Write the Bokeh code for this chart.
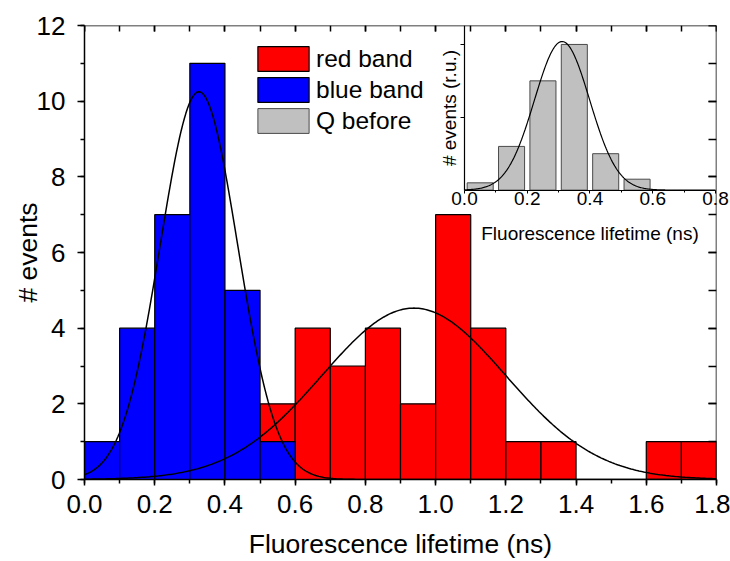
import numpy as np
from bokeh.plotting import figure
from bokeh.models import (Range1d, LinearAxis, SingleIntervalTicker, FixedTicker, Label,
                          CustomJSTickFormatter, PrintfTickFormatter, Legend, LegendItem)
from bokeh.embed import file_html
from bokeh.resources import INLINE

# ---------------- data ----------------
bin_width = 0.1
blue_centers = [0.05, 0.15, 0.25, 0.35, 0.45, 0.55]
blue_counts = [1, 4, 7, 11, 5, 1]
red_centers = [0.55, 0.65, 0.75, 0.85, 0.95, 1.05, 1.15, 1.25, 1.35, 1.45, 1.55, 1.65, 1.75]
red_counts = [2, 4, 3, 4, 2, 7, 4, 1, 1, 0, 0, 1, 1]
q_centers = [0.05, 0.15, 0.25, 0.35, 0.45, 0.55]
q_counts = [0.1, 0.6, 1.5, 2.0, 0.5, 0.15]   # relative units
inset_major_ticks = [0.0, 0.2, 0.4, 0.6, 0.8]
inset_minor_ticks = [0.1, 0.3, 0.5, 0.7]

# Gaussian fit parameters (amplitude, centre, sigma)
blue_fit = (10.25, 0.326, 0.110)
red_fit = (4.53, 0.938, 0.262)
q_fit = (2.04, 0.311, 0.088)

FONT = "Liberation Sans"

def gauss(x, amp, mu, sig):
    return amp * np.exp(-(x - mu) ** 2 / (2 * sig ** 2))

p = figure(width=730, height=561, x_range=Range1d(0, 1.8), y_range=Range1d(0, 12),
           output_backend="svg", toolbar_location=None,
           min_border_left=84, min_border_right=14, min_border_top=25, min_border_bottom=81)
p.outline_line_color = None
p.xgrid.visible = False
p.ygrid.visible = False
p.background_fill_color = "white"
p.border_fill_color = "white"

p.extra_x_ranges = {"inset_x": Range1d(-1.2112, 0.8032)}
p.extra_y_ranges = {"inset_y": Range1d(-3.973, 2.260)}

def style_axis(ax, size):
    ax.axis_line_color = "black"
    ax.axis_line_width = 1.5
    ax.major_tick_line_color = "black"
    ax.minor_tick_line_color = "black"
    ax.major_tick_line_width = 1.5
    ax.minor_tick_line_width = 1.5
    ax.major_label_text_font = FONT
    ax.major_label_text_font_size = size
    ax.major_label_text_color = "black"
    ax.axis_label_text_font = FONT
    ax.axis_label_text_font_style = "normal"
    ax.axis_label_text_color = "black"

# main bottom axis
xa = p.xaxis[0]
xa.ticker = SingleIntervalTicker(interval=0.2, num_minor_ticks=2)
xa.formatter = PrintfTickFormatter(format="%.1f")
style_axis(xa, "26px")
xa.major_tick_out = 6
xa.major_tick_in = 0
xa.minor_tick_out = 4
xa.minor_tick_in = 0
xa.major_label_standoff = 9
xa.axis_label = "Fluorescence lifetime (ns)"
xa.axis_label_text_font_size = "26.5px"
xa.axis_label_standoff = 13

# main left axis
ya = p.yaxis[0]
ya.ticker = SingleIntervalTicker(interval=2, num_minor_ticks=2)
ya.formatter = PrintfTickFormatter(format="%d")
style_axis(ya, "26px")
ya.major_tick_out = 7
ya.major_tick_in = 0
ya.minor_tick_out = 4
ya.minor_tick_in = 0
ya.major_label_standoff = 12
ya.axis_label = "# events"
ya.axis_label_text_font_size = "26.5px"
ya.axis_label_standoff = -9

blank = CustomJSTickFormatter(code="return ''")

# top mirror axis
top = LinearAxis(ticker=SingleIntervalTicker(interval=0.2, num_minor_ticks=2),
                 formatter=blank, fixed_location=12)
style_axis(top, "10px")
top.major_tick_in = 6
top.major_tick_out = 0
top.minor_tick_in = 6
top.minor_tick_out = 0
p.add_layout(top, "above")

# right mirror axis
right = LinearAxis(ticker=SingleIntervalTicker(interval=2, num_minor_ticks=2),
                   formatter=blank, fixed_location=1.8)
style_axis(right, "10px")
right.major_tick_in = 8
right.major_tick_out = 0
right.minor_tick_in = 8
right.minor_tick_out = 0
p.add_layout(right, "right")

# ---------------- main bars ----------------
rc = [c for c, v in zip(red_centers, red_counts) if v > 0]
rv = [v for v in red_counts if v > 0]
r_red = p.vbar(x=rc, top=rv, bottom=0, width=bin_width, fill_color="#FF0000",
               line_color="black", line_width=1.2)
r_blue = p.vbar(x=blue_centers, top=blue_counts, bottom=0, width=bin_width,
                fill_color="#0000FF", line_color="black", line_width=1.2)

xs = np.linspace(0, 1.8, 400)
p.line(xs, gauss(xs, *red_fit), line_color="black", line_width=1.5)
p.line(xs, gauss(xs, *blue_fit), line_color="black", line_width=1.5)

# ---------------- inset ----------------
r_q = p.vbar(x=q_centers, top=q_counts, bottom=0, width=0.083, fill_color="#C0C0C0",
             line_color="#4a4a4a", line_width=1,
             x_range_name="inset_x", y_range_name="inset_y")
xi = np.linspace(0, 0.8, 300)
p.line(xi, gauss(xi, *q_fit), line_color="black", line_width=1.2,
       x_range_name="inset_x", y_range_name="inset_y")

ib = LinearAxis(x_range_name="inset_x", y_range_name="inset_y", fixed_location=0,
                bounds=(0, 0.8),
                ticker=FixedTicker(ticks=inset_major_ticks, minor_ticks=inset_minor_ticks),
                formatter=PrintfTickFormatter(format="%.1f"))
ib.major_label_overrides = {inset_major_ticks[-1]: ""}
style_axis(ib, "19px")
ib.axis_line_width = 1.2
ib.major_tick_out = 3
ib.major_tick_in = 0
ib.minor_tick_out = 2
ib.minor_tick_in = 0
ib.major_tick_line_width = 1
ib.minor_tick_line_width = 1
ib.major_label_standoff = -1
ib.axis_label = "Fluorescence lifetime (ns)"
ib.axis_label_text_font_size = "19px"
ib.axis_label_standoff = 14
p.add_layout(ib, "below")

# last inset tick label drawn as a side-panel annotation so it is not clipped at the frame edge
p.add_layout(Label(x=inset_major_ticks[-1], y=0, x_range_name="inset_x", y_range_name="inset_y",
                   text="%.1f" % inset_major_ticks[-1], text_align="center", text_baseline="top",
                   y_offset=-2, text_font=FONT, text_font_size="19px", text_color="black"),
             "above")

il = LinearAxis(x_range_name="inset_x", y_range_name="inset_y", fixed_location=0,
                bounds=(0, 2.26), ticker=FixedTicker(ticks=[1, 2], minor_ticks=[]),
                formatter=blank)
style_axis(il, "10px")
il.axis_line_width = 1.2
il.major_tick_out = 4
il.major_tick_in = 0
il.major_tick_line_width = 1
il.axis_label = "# events (r.u.)"
il.axis_label_text_font_size = "19px"
il.axis_label_standoff = 1
p.add_layout(il, "left")

# ---------------- legend ----------------
legend = Legend(items=[LegendItem(label="red band", renderers=[r_red]),
                       LegendItem(label="blue band", renderers=[r_blue]),
                       LegendItem(label="Q before", renderers=[r_q])],
                location=(167, 343), orientation="vertical",
                glyph_width=64, glyph_height=31, label_height=31,
                label_standoff=1, spacing=0, padding=0, margin=0,
                border_line_color=None, background_fill_alpha=0,
                label_text_font=FONT, label_text_font_size="24.5px",
                label_text_color="black")
p.add_layout(legend)

open("out.html", "w").write(file_html(p, INLINE))
